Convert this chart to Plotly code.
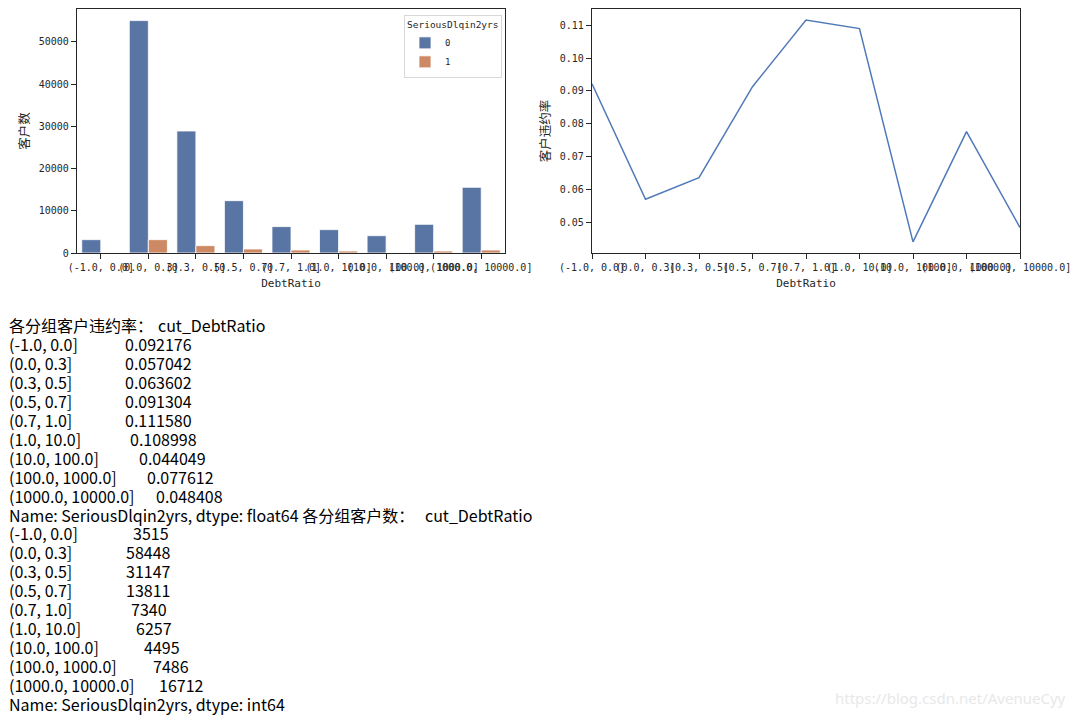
import plotly.graph_objects as go

# ---------------- data ----------------
categories = ["(-1.0, 0.0]", "(0.0, 0.3]", "(0.3, 0.5]", "(0.5, 0.7]", "(0.7, 1.0]",
              "(1.0, 10.0]", "(10.0, 100.0]", "(100.0, 1000.0]", "(1000.0, 10000.0]"]
count_good = [3160, 55050, 28900, 12400, 6250, 5530, 4100, 6800, 15560]   # SeriousDlqin2yrs = 0
count_bad = [0, 3160, 1740, 950, 710, 470, 0, 470, 710]                  # SeriousDlqin2yrs = 1
bad_rate = [0.092176, 0.057042, 0.063602, 0.091304, 0.111580, 0.108998, 0.044049, 0.077612, 0.048408]
group_total = [3515, 58448, 31147, 13811, 7340, 6257, 4495, 7486, 16712]
hue_labels = ["0", "1"]

W, H = 1077, 717
def px(x): return x / W
def py(y): return 1 - y / H

AX = "#262626"
TICKFONT = dict(family="DejaVu Sans Mono, Noto Sans CJK SC", size=10, color=AX)
XTITLEFONT = dict(family="DejaVu Sans Mono, Noto Sans CJK SC", size=11, color=AX)
YTITLEFONT = dict(family="Noto Sans CJK SC", size=12.5, color=AX)

fig = go.Figure()
fig.add_trace(go.Bar(x=categories, y=count_good, name=hue_labels[0],
                     marker=dict(color="#5975A4", line=dict(color="white", width=0.8)),
                     xaxis="x", yaxis="y"))
fig.add_trace(go.Bar(x=categories, y=count_bad, name=hue_labels[1],
                     marker=dict(color="#CC8963", line=dict(color="white", width=0.8)),
                     xaxis="x", yaxis="y"))
fig.add_trace(go.Scatter(x=categories, y=bad_rate, mode="lines", showlegend=False,
                         line=dict(color="#5079B8", width=1.5), xaxis="x2", yaxis="y2"))

ymax_left = max(count_good + count_bad) * 1.05
rmin, rmax = min(bad_rate), max(bad_rate)
pad = (rmax - rmin) * 0.05

common_axis = dict(showline=True, linecolor=AX, linewidth=1.25, mirror=True,
                   ticks="outside", ticklen=5, tickwidth=1.25, tickcolor=AX,
                   showgrid=False, zeroline=False, tickfont=TICKFONT, automargin=False)

fig.update_layout(
    width=W, height=H, margin=dict(l=0, r=0, t=0, b=0, autoexpand=False),
    paper_bgcolor="white", plot_bgcolor="white",
    barmode="group", bargap=0.2, bargroupgap=0,
    xaxis=dict(domain=[px(77), px(505)], anchor="y", type="category", tickangle=0,
               categoryorder="array", categoryarray=categories,
               title=dict(text="DebtRatio", font=XTITLEFONT, standoff=7), **common_axis),
    yaxis=dict(domain=[py(253), py(9)], anchor="x", range=[0, ymax_left],
               dtick=10000, tickformat="d",
               title=dict(text="客户数", font=YTITLEFONT, standoff=6), **common_axis),
    xaxis2=dict(domain=[px(592), px(1020)], anchor="y2", type="category", tickangle=0,
                categoryorder="array", categoryarray=categories, range=[0, len(categories) - 1],
                title=dict(text="DebtRatio", font=XTITLEFONT, standoff=7), **common_axis),
    yaxis2=dict(domain=[py(253), py(9)], anchor="x2", range=[rmin - pad, rmax + pad],
                dtick=0.01, tickformat=".2f",
                title=dict(text="客户违约率", font=YTITLEFONT, standoff=6), **common_axis),
    legend=dict(title=dict(text="SeriousDlqin2yrs", side="top",
                           font=dict(family="DejaVu Sans Mono", size=9.5, color=AX)),
                font=dict(family="DejaVu Sans Mono", size=9, color=AX),
                x=px(502), y=py(15), xanchor="right", yanchor="top",
                bordercolor="#d8d8d8", borderwidth=1, bgcolor="rgba(255,255,255,0.8)",
                itemwidth=30, tracegroupgap=0),
)

# ---------------- printed text output ----------------
TXT = dict(family="Noto Sans CJK SC, Noto Sans", size=16, color="black")
line_y0, line_dy = 325, 18.95
rate_val_x = [124, 124, 124, 124, 124, 129, 138, 146, 155]
cnt_val_x = [132, 125, 125, 125, 130, 135, 143, 152, 158]

def txt(x, row, s):
    fig.add_annotation(x=px(x), y=py(line_y0 + row * line_dy), xref="paper", yref="paper",
                       text=s, showarrow=False, xanchor="left", yanchor="middle", font=TXT,
                       borderpad=0)

txt(8, 0, "各分组客户违约率：")
txt(157, 0, "cut_DebtRatio")
for i, c in enumerate(categories):
    txt(8, 1 + i, c)
    txt(rate_val_x[i], 1 + i, f"{bad_rate[i]:.6f}")
txt(8, 10, "Name: SeriousDlqin2yrs, dtype: float64 各分组客户数：")
txt(424, 10, "cut_DebtRatio")
for i, c in enumerate(categories):
    txt(8, 11 + i, c)
    txt(cnt_val_x[i], 11 + i, f"{group_total[i]}")
txt(8, 20, "Name: SeriousDlqin2yrs, dtype: int64")

fig.add_annotation(x=px(1068), y=py(698), xref="paper", yref="paper", showarrow=False,
                   xanchor="right", yanchor="middle", text="https://blog.csdn.net/AvenueCyy",
                   font=dict(family="Noto Sans", size=15, color="#e8e8e8"))

fig.write_html("out.html")
